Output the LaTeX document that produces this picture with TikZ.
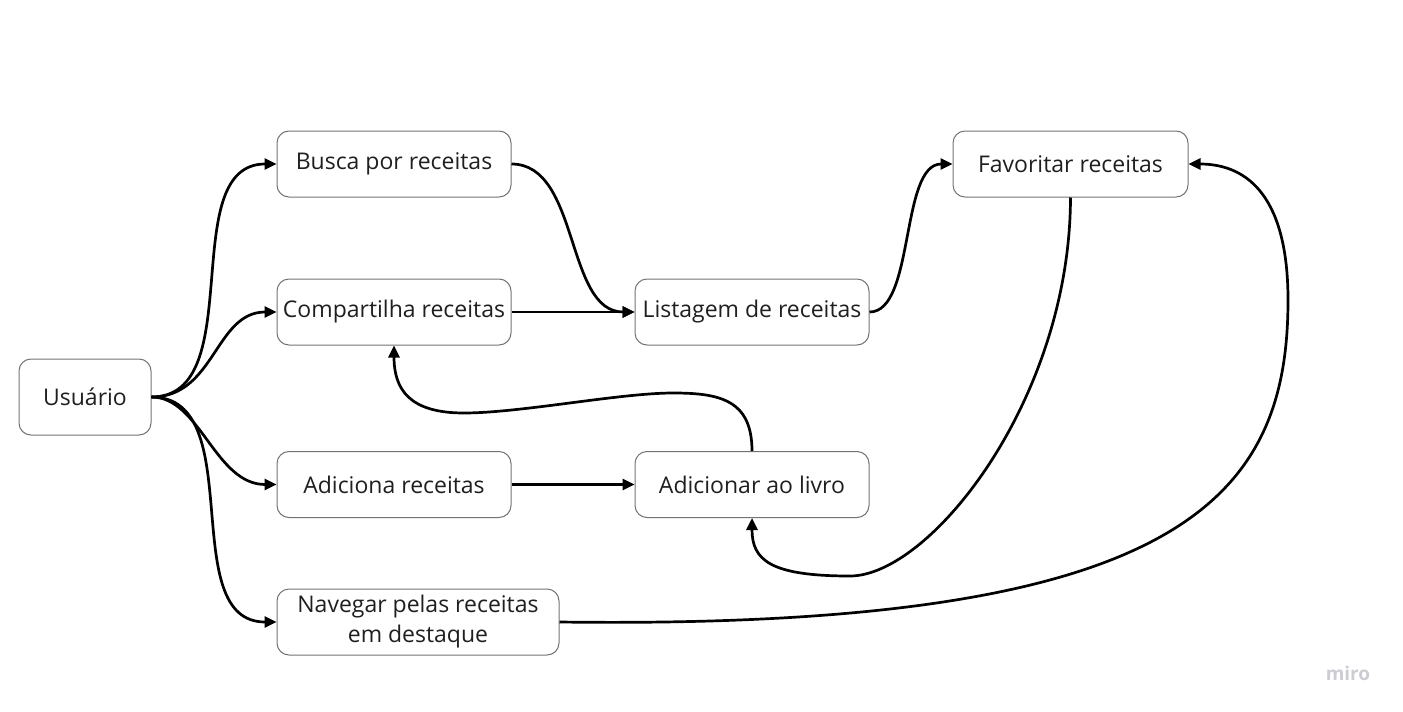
\documentclass[tikz,border=0pt]{standalone}
\usepackage{fontspec}
\setmainfont{Open Sans}
\usetikzlibrary{arrows.meta}
\begin{document}
\begin{tikzpicture}[x=0.5pt,y=-0.5pt,
  box/.style={draw=black!55, line width=0.5pt, rounded corners=6pt, inner sep=0pt,
    text=black!88, font=\fontsize{11.5}{15}\selectfont, align=center},
  conn/.style={line width=1.35pt, -{Triangle[length=6pt,width=5.5pt]}}]
\useasboundingbox (0,0) rectangle (1403,712);
\node[box, minimum width=66pt, minimum height=38pt] (u) at (85,397) {Usuário};
\node[box, minimum width=117pt, minimum height=33pt] (b) at (394,164) {Busca por receitas};
\node[box, minimum width=117pt, minimum height=33pt] (c) at (394,312) {Compartilha receitas};
\node[box, minimum width=117pt, minimum height=33pt] (l) at (752,312) {Listagem de receitas};
\node[box, minimum width=117.5pt, minimum height=33pt] (f) at (1070.5,164) {Favoritar receitas};
\node[box, minimum width=117pt, minimum height=33pt] (a) at (394,484.5) {Adiciona receitas};
\node[box, minimum width=117pt, minimum height=33pt] (al) at (752,484.5) {Adicionar ao livro};
\node[box, minimum width=141pt, minimum height=33pt] (n) at (418,622) {Navegar pelas receitas\\em destaque};
\node[text=blue!12!black!20, font=\bfseries\fontsize{9.5}{11}\selectfont] (miro) at (1348,673) {miro};

\draw[conn] (u.east) .. controls (250,397) and (175,164) .. (b.west);
\draw[conn] (u.east) .. controls (215,397) and (215,312) .. (c.west);
\draw[conn] (u.east) .. controls (200,397) and (215,484.5) .. (a.west);
\draw[conn] (u.east) .. controls (250,397) and (175,622) .. (n.west);
\draw[conn] (b.east) .. controls (580,164) and (565,312) .. (l.west);
\draw[conn] (c.east) -- (l.west);
\draw[conn] (l.east) .. controls (915,312) and (900,164) .. (f.west);
\draw[conn] (a.east) -- (al.west);
\draw[conn] (al.north) .. controls (752,400) and (720,393) .. (673,393)
  .. controls (620,393) and (520,413) .. (464,413)
  .. controls (410,413) and (394,390) .. (c.south);
\draw[conn] (f.south) .. controls (1070,400) and (930,576) .. (850,576)
  .. controls (770,576) and (752,560) .. (al.south);
\draw[conn] (n.east) .. controls (1180,630) and (1288,500) .. (1288,300)
  .. controls (1288,200) and (1250,164) .. (f.east);
\end{tikzpicture}
\end{document}
